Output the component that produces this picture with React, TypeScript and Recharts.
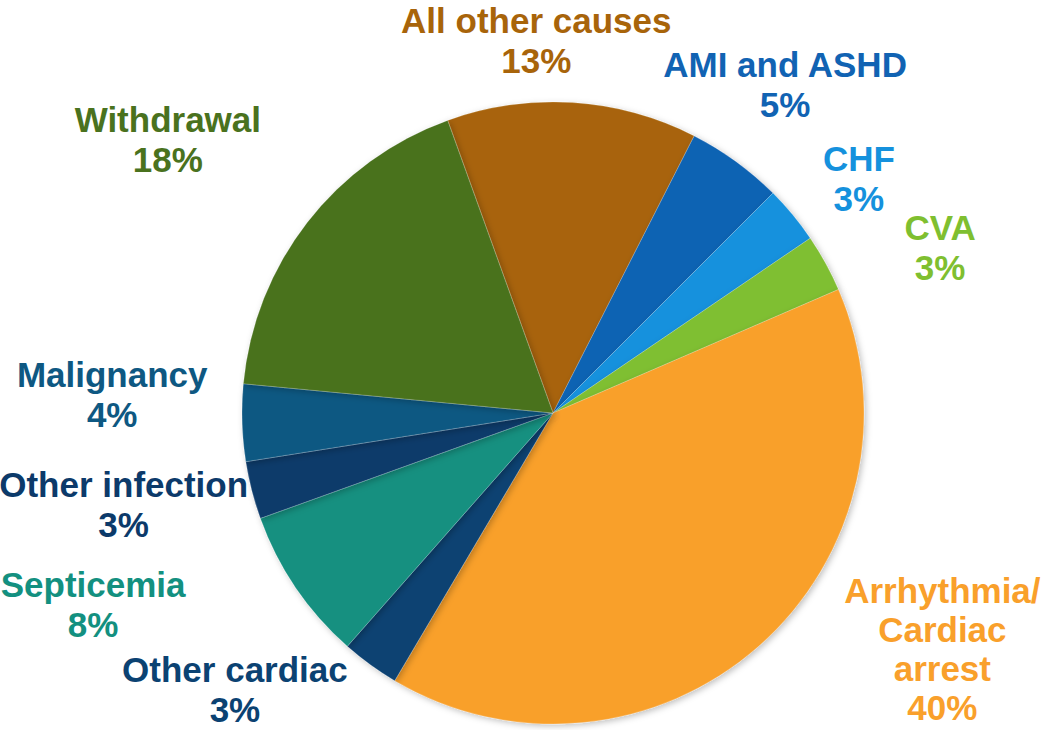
import { PieChart, Pie, Cell } from 'recharts'

const CATEGORIES = [
  'All other causes',
  'AMI and ASHD',
  'CHF',
  'CVA',
  'Arrhythmia/\nCardiac\narrest',
  'Other cardiac',
  'Septicemia',
  'Other infection',
  'Malignancy',
  'Withdrawal',
]

const SHARES = [13, 5, 3, 3, 40, 3, 8, 3, 4, 18]

const COLORS = [
  '#a8640a', '#1163b3', '#1591dd', '#7fbf30', '#f9a02b',
  '#0b4272', '#139080', '#0c3a6a', '#0e5882', '#4a721e',
]

// label nudges from a point just outside the rim, in px
const LABEL_NUDGE: [number, number][] = [
  [-40, -10], [14, -36], [20, -6], [62, 6], [144, -88],
  [-100, -31], [-153, -25], [-70, -8], [-70, -38], [-92, -54],
]

const data = CATEGORIES.map((name, i) => ({ name, value: SHARES[i] }))

const RADIAN = Math.PI / 180
const LINE_H = 40

// eslint-disable-next-line @typescript-eslint/no-explicit-any
const renderLabel = (props: any) => {
  const { cx, cy, midAngle, outerRadius, index, name, value } = props
  const r = outerRadius + 60
  const [dx, dy] = LABEL_NUDGE[index]
  const x = cx + r * Math.cos(-midAngle * RADIAN) + dx
  const y = cy + r * Math.sin(-midAngle * RADIAN) + dy
  const lines = [...String(name).split('\n'), `${value}%`]
  // the tall arrhythmia block sits a little tighter
  const lh = lines.length > 2 ? 39 : LINE_H
  return (
    <text
      x={x}
      y={y}
      fill={COLORS[index]}
      textAnchor="middle"
      fontFamily="'Liberation Sans', Arial, sans-serif"
      fontWeight={700}
      fontSize={35}
    >
      {lines.map((ln, i) => (
        <tspan key={i} x={x} y={y + i * lh}>{ln}</tspan>
      ))}
    </text>
  )
}

export default function App() {
  return (
    <div style={{ position: 'absolute', left: 0, top: 0, width: 1050, height: 730, background: '#fff' }}>
      <style>{'body{margin:0}'}</style>
      <PieChart width={1050} height={730} margin={{ top: 0, right: 0, bottom: 0, left: 0 }}>
        <defs>
          <filter id="pieShadow" x="-10%" y="-10%" width="120%" height="120%">
            <feDropShadow dx="2" dy="2" stdDeviation="3" floodColor="#000" floodOpacity="0.25" />
          </filter>
        </defs>
        <Pie
          data={data}
          dataKey="value"
          nameKey="name"
          cx={553}
          cy={413}
          outerRadius={311}
          startAngle={109.8}
          endAngle={-250.2}
          label={renderLabel}
          labelLine={false}
          isAnimationActive={false}
          style={{ filter: 'url(#pieShadow)' }}
        >
          {data.map((_, i) => (
            <Cell key={i} fill={COLORS[i]} stroke="#ffffff" strokeOpacity={0.3} strokeWidth={0.6} />
          ))}
        </Pie>
      </PieChart>
    </div>
  )
}
